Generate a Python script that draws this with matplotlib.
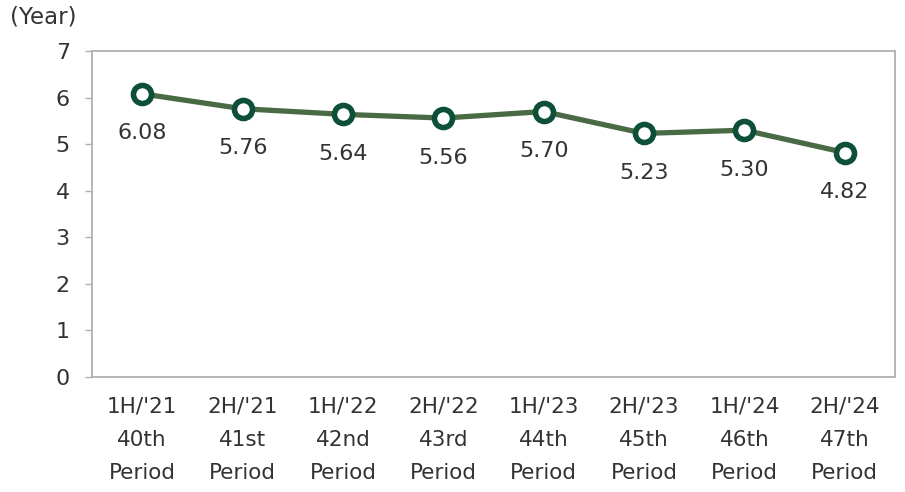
import numpy as np
import matplotlib.pyplot as plt

plt.rcParams['font.family'] = ['DejaVu Sans']

# average remaining lease term per fiscal period
periods = ["1H/'21\n40th\nPeriod", "2H/'21\n41st\nPeriod", "1H/'22\n42nd\nPeriod",
           "2H/'22\n43rd\nPeriod", "1H/'23\n44th\nPeriod", "2H/'23\n45th\nPeriod",
           "1H/'24\n46th\nPeriod", "2H/'24\n47th\nPeriod"]
years = [6.08, 5.76, 5.64, 5.56, 5.70, 5.23, 5.30, 4.82]

line_color = '#4a6a46'
marker_color = '#0d4f37'
frame_color = '#b0b0b0'
text_color = '#333333'

fig = plt.figure(figsize=(9.05, 4.92), dpi=100)
ax = fig.add_axes([92 / 905, 1 - 377 / 492, (895 - 92) / 905, (377 - 51) / 492])

x = np.arange(len(years))
ax.plot(x, years, color=line_color, lw=3.8, zorder=2)
ax.plot(x, years, 'o', ms=13, mfc='white', mec=marker_color, mew=4, zorder=3)

for xi, v in zip(x, years):
    ax.annotate(f'{v:.2f}', (xi, v), xytext=(0, -28.5), textcoords='offset points',
                ha='center', va='center', fontsize=16, color=text_color)

ax.set_xlim(-0.5, len(years) - 0.5)
ax.set_ylim(0, 7)
ax.set_yticks(range(0, 8))
ax.set_xticks(x)
ax.set_xticklabels(periods, fontsize=15.5, color=text_color, linespacing=1.82)
ax.tick_params(axis='x', length=0, pad=14)
ax.tick_params(axis='y', length=5, width=1, color=frame_color, labelsize=16,
               labelcolor=text_color, pad=11)
for sp in ax.spines.values():
    sp.set_color(frame_color)
    sp.set_linewidth(1.3)

fig.text(10 / 905, 1 - 17 / 492, '(Year)', fontsize=16.5, color=text_color,
         ha='left', va='center')

fig.savefig('out.png', dpi=100)
